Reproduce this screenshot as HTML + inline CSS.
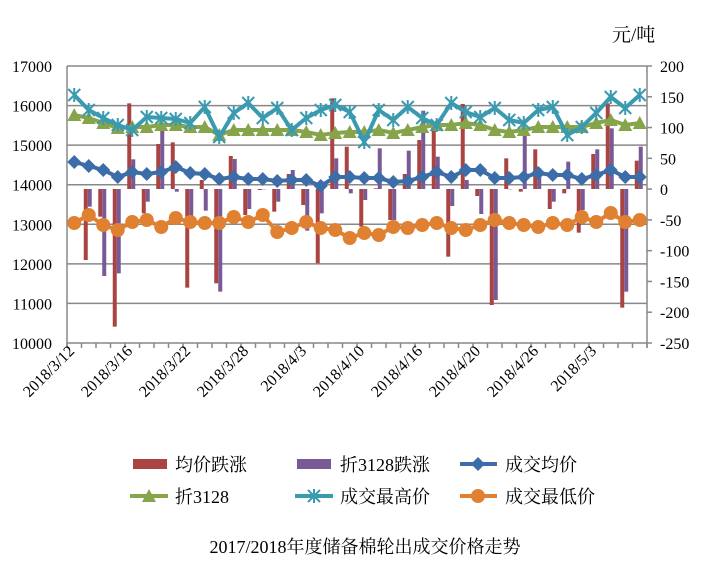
<!DOCTYPE html>
<html><head><meta charset="utf-8">
<style>
html,body{margin:0;padding:0;background:#fff;}
svg{display:block;font-family:"Liberation Serif","Noto Serif CJK SC","Noto Sans CJK SC",serif;}
</style></head><body>
<svg id="c" width="708" height="562" viewBox="0 0 708 562" xmlns="http://www.w3.org/2000/svg"></svg>
<script>
const s=document.getElementById('c');let h='';
const L=67,R=647,T=66,B=343,n=40,w=(R-L)/n;
const cx=i=>L+w*(i+0.5);
for(let k=0;k<=7;k++){const y=T+k*(B-T)/7;h+=`<line x1="${L}" y1="${y}" x2="${R}" y2="${y}" stroke="#888" stroke-width="1.5"/>`;
h+=`<text x="52" y="${y+6}" font-size="16" text-anchor="end">${17000-k*1000}</text>`;}
for(let k=0;k<=9;k++){const y=T+k*(B-T)/9;h+=`<line x1="${R}" y1="${y}" x2="${R+5}" y2="${y}" stroke="#888" stroke-width="1.5"/>`;
h+=`<text x="660" y="${y+6}" font-size="16">${200-k*50}</text>`;}
h+=`<line x1="${L}" y1="${T}" x2="${L}" y2="${B+5}" stroke="#888" stroke-width="1.5"/><line x1="${R}" y1="${T}" x2="${R}" y2="${B+5}" stroke="#888" stroke-width="1.5"/>`;
for(let i=0;i<=n;i++){const x=L+i*w;h+=`<line x1="${x}" y1="${B}" x2="${x}" y2="${B+5}" stroke="#888" stroke-width="1.5"/>`;}
const labs=['2018/3/12','2018/3/16','2018/3/22','2018/3/28','2018/4/3','2018/4/10','2018/4/16','2018/4/20','2018/4/26','2018/5/3'];
labs.forEach((t,j)=>{const x=cx(j*4)+1,y=B+9;h+=`<text transform="translate(${x},${y}) rotate(-45)" font-size="16" text-anchor="end">${t}</text>`;});
const z=189;
const red=[null,600,470,800,130,460,252,247,683,360,670,288,465,390,455,342,435,610,115,260,500,385,480,342,240,210,590,132,408,735,295,395,268,447,400,518,282,130,743,302];
const pur=[null,440,648,640,298,425,210,395,470,452,695,297,447,388,425,330,512,460,295,400,420,265,480,272,152,290,438,360,462,720,388,228,325,425,305,450,268,205,695,260];
for(let i=1;i<n;i++){const c=cx(i);
 let y=60+red[i]/3;h+=`<rect x="${c-5}" y="${Math.min(y,z)}" width="4" height="${Math.abs(y-z)}" fill="#a94442"/>`;
 y=60+pur[i]/3;h+=`<rect x="${c-1}" y="${Math.min(y,z)}" width="4" height="${Math.abs(y-z)}" fill="#7a5a96"/>`;}
const dia=[162,166,170,177,172,174,172,167,173,174,179,177,179,179,181,180,180,186,177,177,178,178,182,181,177,172,177,170,170,178,178,177,173,175,175,179,175,170,177,177];
const hi=[95,110,118,125,130,117,118,119,123,107,137,113,103,118,108,130,118,110,105,112,142,110,120,107,118,125,103,112,117,108,120,123,110,107,135,127,113,97,108,95];
const tri=[115,118,123,128,127,127,125,125,127,127,135,130,130,130,130,130,132,135,133,132,132,130,133,130,127,125,125,123,125,130,132,130,127,127,127,127,123,120,125,123];
const lo=[223,215,225,230,222,220,227,218,222,223,223,217,222,215,232,228,222,228,230,238,233,235,227,228,225,223,228,230,225,220,223,225,227,223,225,217,222,213,222,220];
const pl=(a,c)=>`<polyline points="${a.map((y,i)=>cx(i)+','+y).join(' ')}" fill="none" stroke="${c}" stroke-width="4"/>`;
const diaM=(x,y)=>`<path d="M${x} ${y-7}L${x+7} ${y}L${x} ${y+7}L${x-7} ${y}Z" fill="#3d6da8"/>`;
const triM=(x,y)=>`<path d="M${x} ${y-7}L${x+7} ${y+6}L${x-7} ${y+6}Z" fill="#86a44a"/>`;
const astM=(x,y)=>`<path d="M${x-6} ${y-6}L${x+6} ${y+6}M${x+6} ${y-6}L${x-6} ${y+6}M${x} ${y-7}L${x} ${y+7}" stroke="#3a9ab0" stroke-width="2"/>`;
const cirM=(x,y)=>`<circle cx="${x}" cy="${y}" r="7" fill="#e08132"/>`;
h+=pl(tri,'#86a44a');tri.forEach((y,i)=>h+=triM(cx(i),y));
h+=pl(hi,'#3a9ab0');hi.forEach((y,i)=>h+=astM(cx(i),y));
h+=pl(dia,'#3d6da8');dia.forEach((y,i)=>h+=diaM(cx(i),y));
h+=pl(lo,'#e08132');lo.forEach((y,i)=>h+=cirM(cx(i),y));
h+=`<rect x="133" y="459" width="34" height="10" fill="#a94442"/><text x="175" y="471" font-size="18">均价跌涨</text>`;
h+=`<rect x="297" y="459" width="34" height="10" fill="#7a5a96"/><text x="340" y="471" font-size="18">折3128跌涨</text>`;
h+=`<line x1="460" y1="464" x2="497" y2="464" stroke="#3d6da8" stroke-width="4"/>`+diaM(478,464)+`<text x="505" y="471" font-size="18">成交均价</text>`;
h+=`<line x1="130" y1="496" x2="168" y2="496" stroke="#86a44a" stroke-width="4"/>`+triM(149,496)+`<text x="175" y="503" font-size="18">折3128</text>`;
h+=`<line x1="295" y1="496" x2="333" y2="496" stroke="#3a9ab0" stroke-width="4"/>`+astM(314,496)+`<text x="340" y="503" font-size="18">成交最高价</text>`;
h+=`<line x1="460" y1="496" x2="497" y2="496" stroke="#e08132" stroke-width="4"/>`+cirM(478,496)+`<text x="505" y="503" font-size="18">成交最低价</text>`;
h+=`<text x="612" y="41" font-size="19">元/吨</text>`;
h+=`<text x="365" y="553" font-size="18" text-anchor="middle">2017/2018年度储备棉轮出成交价格走势</text>`;
s.innerHTML=h;
</script>
</body></html>
